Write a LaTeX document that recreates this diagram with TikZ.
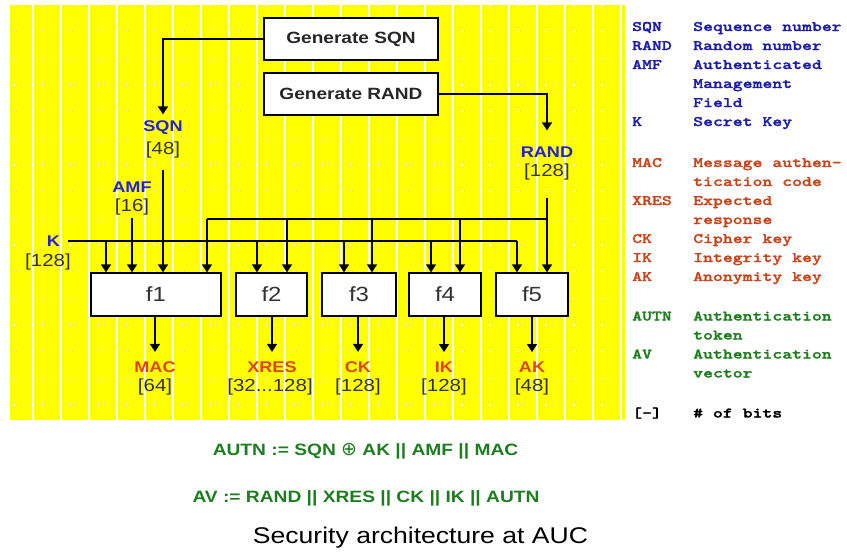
\documentclass[tikz,border=0pt]{standalone}
\usepackage{fontspec}
\usepackage{graphicx}
\usetikzlibrary{arrows.meta}
\newfontfamily\myaf[FakeStretch=1.17]{Liberation Sans}
\newfontfamily\mydvf{DejaVu Sans}
\newfontfamily\mylegf{lmmonolt10-bold.otf}[FakeStretch=1.3,FakeBold=1.6]
\definecolor{yel}{RGB}{255,255,0}
\definecolor{lblue}{RGB}{35,35,210}
\definecolor{lred}{RGB}{222,68,20}
\definecolor{gblue}{RGB}{30,30,170}
\definecolor{gred}{RGB}{200,70,30}
\definecolor{grn}{RGB}{30,125,30}
\newcommand{\myfs}[1]{\fontsize{#1}{#1}\selectfont}
\newcommand{\legt}[1]{{\mylegf\myfs{14.5}#1}}
\begin{document}
\begin{tikzpicture}[x=1pt,y=-1pt,
  gbox/.style={draw=black,line width=1.3pt,fill=white,inner sep=0pt,font=\myaf\bfseries\myfs{16.3},text=black!85},
  fbox/.style={draw=black,line width=1.3pt,fill=white,inner sep=0pt,minimum height=43pt,font=\myaf\myfs{20.5},text=black!80},
  arr/.style={line width=1.3pt,-{Triangle[width=10pt,length=8pt]}},
  ln/.style={line width=1.3pt},
  bl/.style={font=\myaf\bfseries\myfs{15.5},text=lblue,inner sep=0pt},
  rl/.style={font=\myaf\bfseries\myfs{15.5},text=lred,inner sep=0pt},
  nb/.style={font=\myaf\myfs{17.5},text=black!80,inner sep=0pt},
  leg/.style={anchor=base west,inner sep=0pt}]
\useasboundingbox (0,0) rectangle (847,552);
\fill[white] (0,0) rectangle (847,552);
\fill[yel] (10,5) rectangle (625,420);
\foreach \k in {0,...,21} \draw[white,line width=1.2pt] ({33+28*\k},5) -- ({33+28*\k},420);
\foreach \k in {0,...,15} \draw[white,line width=1.3pt,dash pattern=on 1.3pt off 8.03pt] (13.65,{5+26.67*\k}) -- (625,{5+26.67*\k});

% generator boxes
\node[gbox,minimum width=174pt,minimum height=42pt] (gsqn) at (351,39) {Generate SQN};
\node[gbox,minimum width=174pt,minimum height=42pt] (grand) at (351,94) {Generate RAND};

% input labels
\node[bl] (sqn) at (163,128) {SQN};
\node[nb] (n48) at (163,150) {[48]};
\node[bl] (amf) at (132,187) {AMF};
\node[nb] (n16) at (132,207) {[16]};
\node[bl] (rand) at (547,152) {RAND};
\node[nb] (n128r) at (547,172) {[128]};
\node[bl] (k) at (53.5,241) {K};
\node[nb] (n128k) at (48,262) {[128]};

% function boxes
\node[fbox,minimum width=130pt] (f1) at (156,294.5) {f1};
\node[fbox,minimum width=71pt] (f2) at (271.5,294.5) {f2};
\node[fbox,minimum width=74pt] (f3) at (359,294.5) {f3};
\node[fbox,minimum width=72pt] (f4) at (445,294.5) {f4};
\node[fbox,minimum width=72pt] (f5) at (532,294.5) {f5};

% outputs
\node[rl] (mac) at (155,367) {MAC};
\node[nb] (n64) at (155,387) {[64]};
\node[rl] (xres) at (272,367) {XRES};
\node[nb] (nx) at (270,387) {[32...128]};
\node[rl] (ck) at (358,367) {CK};
\node[nb] (nck) at (358,387) {[128]};
\node[rl] (ik) at (444,367) {IK};
\node[nb] (nik) at (444,387) {[128]};
\node[rl] (ak) at (532,367) {AK};
\node[nb] (nak) at (532,387) {[48]};

% generator arrows
\draw[arr,shorten >=6.5pt] (gsqn.west) -| (sqn.north);
\draw[arr,shorten >=16pt] (grand.east) -| (rand.north);

% SQN, AMF into f1
\draw[arr,shorten <=12pt] (n48.south) -- (n48.south |- f1.north);
\draw[arr,shorten <=3pt] (n16.south) -- (n16.south |- f1.north);

% RAND bus
\coordinate (rb) at (547,219);
\coordinate (rt1) at (207,219);
\coordinate (rt2) at (287,219);
\coordinate (rt3) at (372,219);
\coordinate (rt4) at (460,219);
\draw[arr,shorten <=18pt] (n128r.south) -- (n128r.south |- f5.north);
\draw[ln] (rb) -- (rt1);
\draw[arr] (rt1) -- (rt1 |- f1.north);
\draw[arr] (rt2) -- (rt2 |- f2.north);
\draw[arr] (rt3) -- (rt3 |- f3.north);
\draw[arr] (rt4) -- (rt4 |- f4.north);

% K bus
\coordinate (kt1) at (106,241);
\coordinate (kt2) at (257,241);
\coordinate (kt3) at (344,241);
\coordinate (kt4) at (431,241);
\coordinate (kt5) at (517,241);
\draw[ln,shorten <=8pt] (k.east) -- (kt5);
\draw[arr] (kt1) -- (kt1 |- f1.north);
\draw[arr] (kt2) -- (kt2 |- f2.north);
\draw[arr] (kt3) -- (kt3 |- f3.north);
\draw[arr] (kt4) -- (kt4 |- f4.north);
\draw[arr] (kt5) -- (kt5 |- f5.north);

% output arrows
\draw[arr,shorten >=9.4pt] (f1.south -| mac) -- (mac.north);
\draw[arr,shorten >=9.4pt] (f2.south -| xres) -- (xres.north);
\draw[arr,shorten >=9.4pt] (f3.south -| ck) -- (ck.north);
\draw[arr,shorten >=9.4pt] (f4.south -| ik) -- (ik.north);
\draw[arr,shorten >=9.4pt] (f5.south -| ak) -- (ak.north);

% legend
\foreach \a/\y/\c [count=\i] in {SQN/31/gblue,RAND/50/gblue,AMF/69/gblue,K/126/gblue,MAC/167/gred,XRES/205/gred,CK/243/gred,IK/262/gred,AK/281/gred,AUTN/320.5/grn,AV/358.5/grn,{[-]}/417.5/black}
  \node[leg,text=\c] (la\i) at (632,\y) {\legt{\a}};
\foreach \d/\y/\c [count=\i] in {Sequence number/31/gblue,Random number/50/gblue,Authenticated/69/gblue,Management/88/gblue,Field/107/gblue,Secret Key/126/gblue,Message authen-/167/gred,tication code/186/gred,Expected/205/gred,response/224/gred,Cipher key/243/gred,Integrity key/262/gred,Anonymity key/281/gred,Authentication/320.5/grn,token/339.5/grn,Authentication/358.5/grn,vector/377.5/grn,\# of bits/417.5/black}
  \node[leg,text=\c] (lb\i) at (693,\y) {\legt{\d}};

% formulas and caption
\node[font=\myaf\bfseries\myfs{16.4},text=grn,anchor=base,inner sep=0pt] (autn) at (365.5,455) {AUTN := SQN {\mydvf\mdseries\myfs{19}⊕} AK || AMF || MAC};
\node[font=\myaf\bfseries\myfs{16.4},text=grn,anchor=base,inner sep=0pt] (av) at (366,502) {AV := RAND || XRES || CK || IK || AUTN};
\node[font=\myaf\myfs{22.7},text=black,anchor=base,inner sep=0pt] (cap) at (420.5,543.5) {Security architecture at AUC};
\end{tikzpicture}
\end{document}
